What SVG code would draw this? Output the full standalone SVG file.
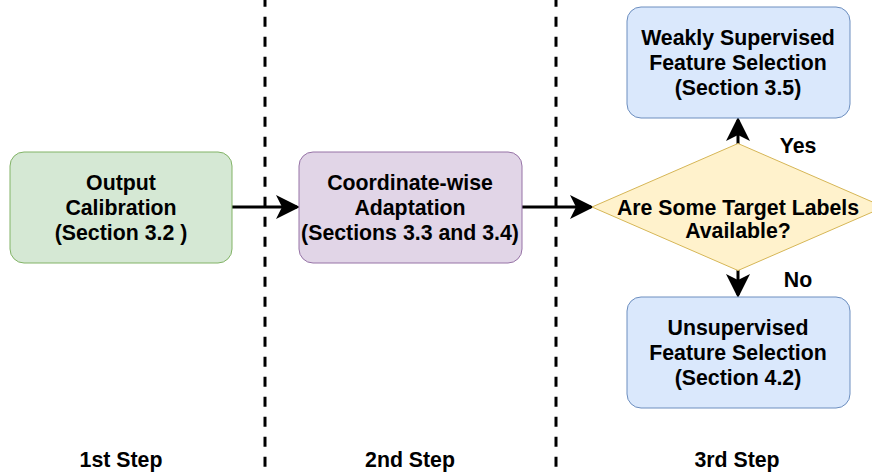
<svg xmlns="http://www.w3.org/2000/svg" width="872" height="475" viewBox="0 0 872 475">
<style>
text{font-family:"Liberation Sans",Arial,sans-serif;font-weight:bold;font-size:21.3px;fill:#000;text-anchor:middle}
.g{fill:#d5e8d4;stroke:#82b366;stroke-width:1}
.p{fill:#e1d5e7;stroke:#9673a6;stroke-width:1}
.y{fill:#fff2cc;stroke:#d6b656;stroke-width:1}
.b{fill:#dae8fc;stroke:#6c8ebf;stroke-width:1}
.c{stroke:#000;stroke-width:3;fill:none;marker-end:url(#ah)}
.d{stroke:#000;stroke-width:3;stroke-dasharray:10 10;stroke-dashoffset:3.3}
</style>
<defs>
<marker id="ah" markerWidth="8" markerHeight="8" refX="7" refY="4" orient="auto" markerUnits="strokeWidth" viewBox="0 0 8 8">
<path d="M0,0 L8,4 L0,8 L2,4 Z" fill="#000"/>
</marker>
</defs>
<rect width="872" height="475" fill="#fff"/>
<g id="dividers">
<line class="d" x1="265" y1="0" x2="265" y2="475"/>
<line class="d" x1="556" y1="0" x2="556" y2="475"/>
</g>
<g id="connectors">
<line class="c" x1="232" y1="207" x2="297" y2="207"/>
<line class="c" x1="522" y1="207" x2="591" y2="207"/>
<line class="c" x1="738" y1="144" x2="738" y2="120"/>
<line class="c" x1="738" y1="270" x2="738" y2="295"/>
</g>
<g id="n1">
<rect class="g" x="10" y="152" width="222" height="111" rx="14"/>
<text x="121" y="190">Output</text>
<text x="121" y="215">Calibration</text>
<text x="121" y="240">(Section 3.2 )</text>
</g>
<g id="n2">
<rect class="p" x="299" y="152" width="223" height="111" rx="14"/>
<text x="410" y="190">Coordinate-wise</text>
<text x="410" y="215">Adaptation</text>
<text x="410" y="240">(Sections 3.3 and 3.4)</text>
</g>
<g id="n3">
<path class="y" d="M738,143.5 L884,207 L738,270.5 L592,207 Z"/>
<text x="738" y="215">Are Some Target Labels</text>
<text x="738" y="238">Available?</text>
</g>
<g id="n4">
<rect class="b" x="627" y="7" width="223" height="111" rx="14"/>
<text x="738" y="45">Weakly Supervised</text>
<text x="738" y="70">Feature Selection</text>
<text x="738" y="95">(Section 3.5)</text>
</g>
<g id="n5">
<rect class="b" x="627" y="297" width="223" height="111" rx="14"/>
<text x="738" y="335">Unsupervised</text>
<text x="738" y="360">Feature Selection</text>
<text x="738" y="385">(Section 4.2)</text>
</g>
<g id="labels">
<text x="798" y="153">Yes</text>
<text x="798" y="287">No</text>
<text x="121" y="467">1st Step</text>
<text x="410" y="467">2nd Step</text>
<text x="737" y="467">3rd Step</text>
</g>
</svg>
